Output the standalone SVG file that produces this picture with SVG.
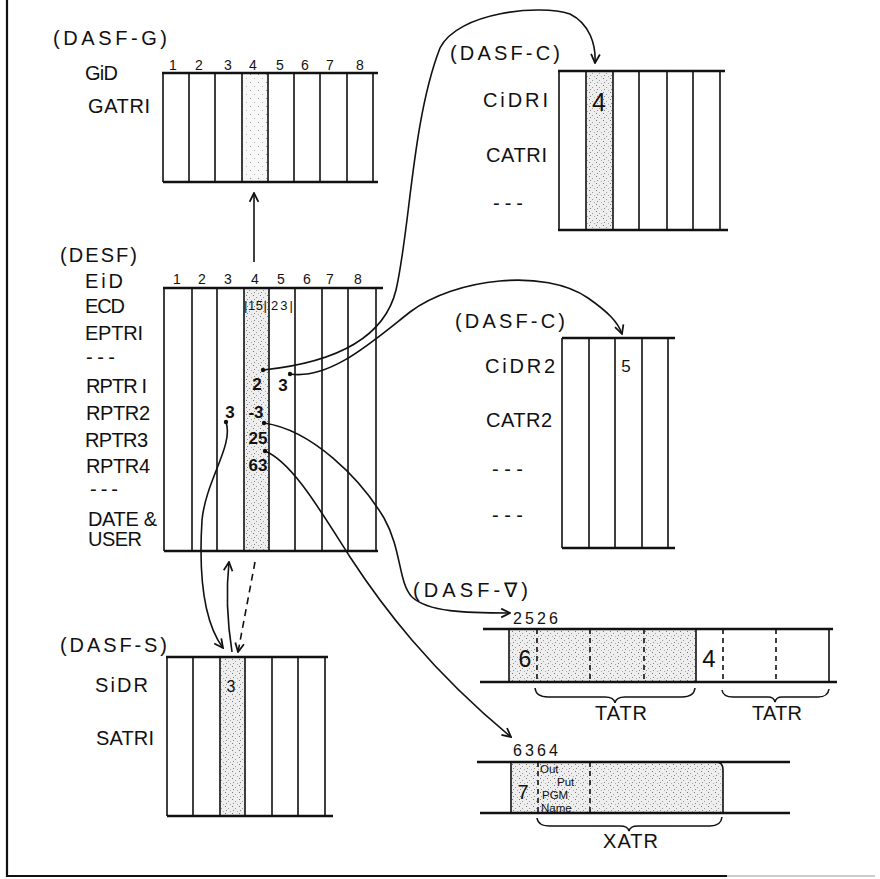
<svg xmlns="http://www.w3.org/2000/svg" width="880" height="879" viewBox="0 0 880 879">
<style>
text{font-family:"Liberation Sans",Arial,sans-serif;fill:#111}
.lbl{font-size:20px}
.num{font-size:14px;text-anchor:middle}
.cell{font-size:17px;font-weight:bold;text-anchor:middle}
.sm{font-size:13px}
.tiny{font-size:11.5px}
.hv{stroke:#111;stroke-width:2.6;fill:none}
.vl{stroke:#111;stroke-width:1.6;fill:none}
.dash{stroke:#111;stroke-width:1.6;stroke-dasharray:5 4;fill:none}
.cn{stroke:#111;stroke-width:1.6;fill:none}
.br{stroke:#111;stroke-width:1.5;fill:none}
</style>
<defs>
<pattern id="st" width="7" height="7" patternUnits="userSpaceOnUse">
<rect width="7" height="7" fill="#eeeeee"/>
<rect x="1" y="1" width="1" height="1" fill="#777"/>
<rect x="4" y="3" width="1" height="1" fill="#999"/>
<rect x="2" y="5" width="1" height="1" fill="#888"/>
<rect x="6" y="6" width="1" height="1" fill="#aaa"/>
</pattern>
<pattern id="stl" width="8" height="8" patternUnits="userSpaceOnUse">
<rect width="8" height="8" fill="#f7f7f7"/>
<rect x="2" y="2" width="1" height="1" fill="#999"/>
<rect x="6" y="6" width="1" height="1" fill="#bbb"/>
</pattern>
<marker id="ah" viewBox="0 0 10 10" refX="9" refY="5" markerWidth="11" markerHeight="11" markerUnits="userSpaceOnUse" orient="auto"><path d="M1,1 L9,5 L1,9" fill="none" stroke="#111" stroke-width="1.6"/></marker>
</defs>
<rect width="880" height="879" fill="#fff"/>
<g id="frame">
<path d="M7,0 V876 H727" stroke="#111" stroke-width="2.2" fill="none"/>
<path d="M727,876 H875" stroke="#bbb" stroke-width="1.5" fill="none"/>
</g>

<g id="dasf-g">
<text class="lbl" x="53" y="45" textLength="114" lengthAdjust="spacing">(DASF-G)</text>
<text class="lbl" x="85" y="80" textLength="33" lengthAdjust="spacing">GiD</text>
<text class="lbl" x="88" y="113" textLength="62" lengthAdjust="spacing">GATRI</text>
<rect x="242" y="73" width="26" height="109" fill="url(#stl)"/>
<path class="hv" d="M162,73 H378 M163,182 H378"/>
<path class="vl" d="M163,73 V182 M189,73 V182 M215,73 V182 M242,73 V182 M268,73 V182 M294,73 V182 M320,73 V182 M347,73 V182 M373,73 V182"/>
<text class="num" x="173" y="70">1</text><text class="num" x="199" y="70">2</text><text class="num" x="228" y="70">3</text><text class="num" x="253" y="70">4</text><text class="num" x="280" y="70">5</text><text class="num" x="305" y="70">6</text><text class="num" x="330" y="70">7</text><text class="num" x="360" y="70">8</text>
</g>

<g id="desf">
<text class="lbl" x="60" y="262" textLength="77" lengthAdjust="spacing">(DESF)</text>
<text class="lbl" x="85" y="288" textLength="38" lengthAdjust="spacing">EiD</text>
<text class="lbl" x="85" y="313" textLength="40" lengthAdjust="spacing">ECD</text>
<text class="lbl" x="85" y="340" textLength="58" lengthAdjust="spacing">EPTRI</text>
<text class="lbl" x="86" y="364" textLength="29" lengthAdjust="spacing">---</text>
<text class="lbl" x="86" y="393" textLength="61" lengthAdjust="spacing">RPTR I</text>
<text class="lbl" x="86" y="420" textLength="64" lengthAdjust="spacing">RPTR2</text>
<text class="lbl" x="85" y="447" textLength="63" lengthAdjust="spacing">RPTR3</text>
<text class="lbl" x="86" y="473" textLength="64" lengthAdjust="spacing">RPTR4</text>
<text class="lbl" x="90" y="496" textLength="28" lengthAdjust="spacing">---</text>
<text class="lbl" x="88" y="526" textLength="69" lengthAdjust="spacing">DATE &amp;</text>
<text class="lbl" x="88" y="546" textLength="54" lengthAdjust="spacing">USER</text>
<rect x="244" y="288" width="25" height="263" fill="url(#st)"/>
<path class="hv" d="M163,288 H383 M164,551 H378"/>
<path class="vl" d="M164,288 V551 M192,288 V551 M217,288 V551 M244,288 V551 M269,288 V551 M295,288 V551 M322,288 V551 M348,288 V551 M376,288 V551"/>
<text class="num" x="177" y="284">1</text><text class="num" x="202" y="284">2</text><text class="num" x="228" y="284">3</text><text class="num" x="255" y="284">4</text><text class="num" x="281" y="284">5</text><text class="num" x="307" y="284">6</text><text class="num" x="330" y="284">7</text><text class="num" x="358" y="284">8</text>
<text class="sm" x="244" y="310" textLength="23" lengthAdjust="spacing">|15|</text>
<text class="sm" x="271" y="310" textLength="22" lengthAdjust="spacing">23|</text>
<text class="cell" x="257" y="390">2</text>
<text class="cell" x="283" y="391">3</text>
<text class="cell" x="230" y="418">3</text>
<text class="cell" x="256" y="418">-3</text>
<text class="cell" x="258" y="444">25</text>
<text class="cell" x="258" y="471">63</text>
</g>

<g id="dasf-c1">
<text class="lbl" x="450" y="60" textLength="110" lengthAdjust="spacing">(DASF-C)</text>
<text class="lbl" x="483" y="107" textLength="65" lengthAdjust="spacing">CiDRI</text>
<text class="lbl" x="486" y="162" textLength="61" lengthAdjust="spacing">CATRI</text>
<text class="lbl" x="493" y="210" textLength="30" lengthAdjust="spacing">---</text>
<rect x="586" y="71" width="27" height="159" fill="url(#st)"/>
<path class="hv" d="M558,71 H725 M558,230 H728"/>
<path class="vl" d="M559,71 V230 M586,71 V230 M613,71 V230 M639,71 V230 M667,71 V230 M693,71 V230 M720,71 V230"/>
<text x="599" y="111" style="font-size:25px;text-anchor:middle">4</text>
</g>

<g id="dasf-c2">
<text class="lbl" x="455" y="328" textLength="110" lengthAdjust="spacing">(DASF-C)</text>
<text class="lbl" x="485" y="373" textLength="70" lengthAdjust="spacing">CiDR2</text>
<text class="lbl" x="486" y="427" textLength="66" lengthAdjust="spacing">CATR2</text>
<text class="lbl" x="492" y="476" textLength="31" lengthAdjust="spacing">---</text>
<text class="lbl" x="492" y="522" textLength="31" lengthAdjust="spacing">---</text>
<path class="hv" d="M562,338 H675 M562,548 H675"/>
<path class="vl" d="M562,338 V548 M589,338 V548 M615,338 V548 M642,338 V548 M668,338 V548"/>
<text x="626" y="372" style="font-size:17px;text-anchor:middle">5</text>
</g>

<g id="dasf-s">
<text class="lbl" x="60" y="652" textLength="107" lengthAdjust="spacing">(DASF-S)</text>
<text class="lbl" x="95" y="692" textLength="53" lengthAdjust="spacing">SiDR</text>
<text class="lbl" x="96" y="745" textLength="58" lengthAdjust="spacing">SATRI</text>
<rect x="220" y="657" width="25" height="159" fill="url(#st)"/>
<path class="hv" d="M166,657 H328 M167,816 H333"/>
<path class="vl" d="M167,657 V816 M193,657 V816 M220,657 V816 M245,657 V816 M272,657 V816 M298,657 V816 M325,657 V816"/>
<text x="231" y="692" style="font-size:16px;text-anchor:middle">3</text>
</g>

<g id="dasf-v">
<text class="lbl" x="413" y="597" textLength="115" lengthAdjust="spacing">(DASF-∇)</text>
<text x="513" y="624" style="font-size:16px" textLength="45" lengthAdjust="spacing">2526</text>
<rect x="509" y="629" width="187" height="53" fill="url(#st)"/>
<path class="hv" d="M483,629 H833 M480,682 H837"/>
<path class="vl" d="M509,629 V682 M696,629 V682 M829,629 V682"/>
<path class="dash" d="M537,629 V682 M590,629 V682 M644,629 V682 M723,629 V682 M776,629 V682"/>
<text x="525" y="667" style="font-size:23px;text-anchor:middle">6</text>
<text x="709" y="667" style="font-size:24px;text-anchor:middle">4</text>
<path class="br" d="M535,688 Q536,697 548,697 L605,697 Q614,697 615,703 Q616,697 625,697 L682,697 Q694,697 695,688"/>
<path class="br" d="M722,690 Q723,697 733,697 L768,697 Q774,697 775,702 Q776,697 782,697 L818,697 Q828,697 829,689"/>
<text class="lbl" x="595" y="720" textLength="52" lengthAdjust="spacing">TATR</text>
<text class="lbl" x="752" y="720" textLength="50" lengthAdjust="spacing">TATR</text>
</g>

<g id="xatr">
<text x="513" y="756" style="font-size:16px" textLength="45" lengthAdjust="spacing">6364</text>
<path d="M511,762 H716 Q723,762 723,770 V813 H511 Z" fill="url(#st)"/>
<path class="hv" d="M477,762 H790 M480,813 H790"/>
<path class="vl" d="M511,762 V813 M716,762 Q723,762 723,770 V813"/>
<path class="dash" d="M538,762 V813 M590,762 V813"/>
<text x="523" y="799" style="font-size:20px;text-anchor:middle">7</text>
<text class="tiny" x="540" y="773">Out</text>
<text class="tiny" x="557" y="786">Put</text>
<text class="tiny" x="542" y="799">PGM</text>
<text class="tiny" x="541" y="812">Name</text>
<path class="br" d="M537,818 Q538,826 550,826 L620,826 Q628,826 629,831 Q630,826 638,826 L710,826 Q721,826 722,817"/>
<text class="lbl" x="603" y="848" textLength="55" lengthAdjust="spacing">XATR</text>
</g>

<g id="connectors">
<path class="cn" marker-end="url(#ah)" d="M254,262 V193"/>
<path class="cn" marker-end="url(#ah)" d="M263,370 C340,362 385,335 396,290 C410,230 412,120 440,48 C458,12 540,4 570,14 C590,24 596,45 595,63"/>
<path class="cn" marker-end="url(#ah)" d="M290,374 C330,380 372,342 410,312 C455,278 545,268 588,298 C608,312 618,322 622,334"/>
<path class="cn" marker-end="url(#ah)" d="M264,423 C312,430 360,478 384,518 C402,550 398,582 412,597 C428,612 465,613 510,613"/>
<path class="cn" marker-end="url(#ah)" d="M265,451 C292,462 320,510 350,557 C382,606 430,670 511,737"/>
<path class="cn" marker-end="url(#ah)" d="M226,422 C234,445 206,480 202,520 C198,585 206,625 223,648"/>
<path class="cn" marker-end="url(#ah)" d="M232,652 C227,620 226,590 229,562"/>
<path class="cn" stroke-dasharray="7 5" marker-end="url(#ah)" d="M255,562 L238,652"/>
<circle cx="263" cy="370" r="2.2" fill="#111"/>
<circle cx="290" cy="374" r="2.2" fill="#111"/>
<circle cx="226" cy="422" r="2.2" fill="#111"/>
<circle cx="264" cy="423" r="2.2" fill="#111"/>
<circle cx="265" cy="451" r="2.2" fill="#111"/>
</g>
</svg>
